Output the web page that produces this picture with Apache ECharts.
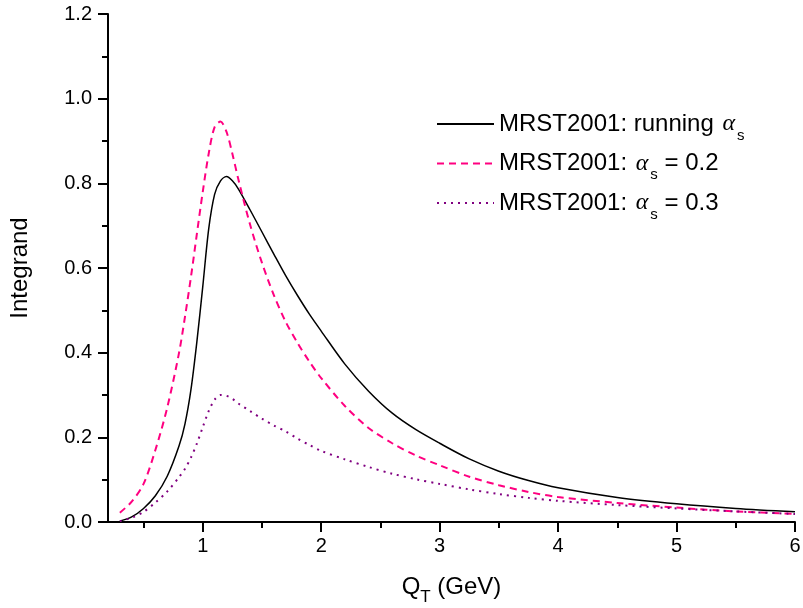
<!DOCTYPE html>
<html>
<head>
<meta charset="utf-8">
<script src="https://cdn.jsdelivr.net/npm/echarts@6/dist/echarts.min.js"></script>
<style>html,body{margin:0;padding:0;background:#fff}#c{width:803px;height:608px}</style>
</head>
<body>
<div id="c"></div>
<script>
// Q_T values (GeV)
var qt = [0.3, 0.4, 0.5, 0.6, 0.7, 0.8, 0.85, 0.9, 0.95, 1.0, 1.05, 1.1, 1.15, 1.2, 1.25, 1.3, 1.4, 1.5, 1.6, 1.7, 1.8, 1.9, 2.0, 2.2, 2.4, 2.6, 2.8, 3.0, 3.25, 3.5, 3.75, 4.0, 4.5, 5.0, 5.5, 6.0];
// MRST2001: running alpha_s
var running = [0.002, 0.012, 0.032, 0.062, 0.108, 0.180, 0.232, 0.312, 0.425, 0.556, 0.692, 0.774, 0.806, 0.816, 0.806, 0.787, 0.737, 0.685, 0.633, 0.582, 0.535, 0.491, 0.451, 0.373, 0.309, 0.257, 0.218, 0.186, 0.149, 0.120, 0.098, 0.081, 0.058, 0.043, 0.032, 0.024];
// MRST2001: alpha_s = 0.2
var fixed02 = [0.022, 0.048, 0.090, 0.170, 0.270, 0.400, 0.485, 0.578, 0.680, 0.780, 0.870, 0.933, 0.946, 0.922, 0.870, 0.810, 0.702, 0.612, 0.536, 0.473, 0.423, 0.379, 0.340, 0.274, 0.222, 0.186, 0.157, 0.134, 0.107, 0.087, 0.071, 0.059, 0.045, 0.034, 0.025, 0.019];
// MRST2001: alpha_s = 0.3
var fixed03 = [0.002, 0.010, 0.024, 0.046, 0.072, 0.106, 0.126, 0.152, 0.185, 0.224, 0.262, 0.289, 0.300, 0.298, 0.291, 0.280, 0.262, 0.244, 0.228, 0.214, 0.197, 0.182, 0.168, 0.148, 0.130, 0.114, 0.101, 0.090, 0.077, 0.066, 0.057, 0.050, 0.040, 0.032, 0.025, 0.019];

var majorX = [1, 2, 3, 4, 5, 6];
var minorX = [0.5, 1.5, 2.5, 3.5, 4.5, 5.5];
var seriesNames = ['MRST2001: running', 'MRST2001: a02', 'MRST2001: a03'];
var legendLabels = {
  'MRST2001: running': 'MRST2001: running {a|α}{s|s}',
  'MRST2001: a02': 'MRST2001: {a|α}{s|s} = 0.2',
  'MRST2001: a03': 'MRST2001: {a|α}{s|s} = 0.3'
};

function pairs(xs, ys) { return xs.map(function (x, i) { return [x, ys[i]]; }); }

var FONT = '"Liberation Sans", Arial, sans-serif';
var chart = echarts.init(document.getElementById('c'), null, {renderer: 'canvas'});
chart.setOption({
  animation: false,
  backgroundColor: '#ffffff',
  grid: {left: 108, right: 8, top: 14, bottom: 86, containLabel: false, outerBoundsMode: 'none'},
  legend: {
    orient: 'vertical',
    left: 431,
    top: 100,
    itemWidth: 57,
    itemHeight: 14,
    itemGap: 1.5,
    data: seriesNames,
    itemStyle: {opacity: 0},
    formatter: function (n) { return legendLabels[n]; },
    textStyle: {
      fontFamily: FONT, fontSize: 24, color: '#000',
      rich: {
        a: {fontFamily: '"Liberation Serif", "DejaVu Serif", serif', fontStyle: 'italic', fontSize: 24, color: '#000', padding: [0, 0, 0, 2]},
        s: {fontFamily: FONT, fontSize: 15, lineHeight: 15, padding: [23, 0, 0, 2], color: '#000'}
      }
    }
  },
  xAxis: [{
    type: 'value', min: 0.2, max: 6,
    name: 'Q{t|T} (GeV)',
    nameLocation: 'middle',
    nameGap: 53,
    nameTextStyle: {
      fontFamily: FONT, fontSize: 24, color: '#000',
      rich: {t: {fontFamily: FONT, fontSize: 17, lineHeight: 17, padding: [20, 0, 0, 0], color: '#000'}}
    },
    axisLine: {show: true, onZero: false, lineStyle: {color: '#000', width: 2}},
    axisTick: {show: true, length: 10, customValues: majorX, lineStyle: {color: '#000', width: 2}},
    axisLabel: {show: true, customValues: majorX, margin: 14, fontFamily: FONT, fontSize: 20, color: '#000'},
    splitLine: {show: false}
  }, {
    type: 'value', min: 0.2, max: 6, position: 'bottom', gridIndex: 0,
    axisLine: {show: false},
    axisTick: {show: true, length: 6, customValues: minorX, lineStyle: {color: '#000', width: 2}},
    axisLabel: {show: false},
    splitLine: {show: false}
  }],
  yAxis: {
    type: 'value', min: 0, max: 1.2, interval: 0.2,
    name: 'Integrand',
    nameLocation: 'middle',
    nameGap: 76,
    nameTextStyle: {fontFamily: FONT, fontSize: 24, color: '#000'},
    axisLine: {show: true, onZero: false, lineStyle: {color: '#000', width: 2}},
    axisTick: {show: true, length: 10, lineStyle: {color: '#000', width: 2}},
    minorTick: {show: true, splitNumber: 2, length: 6, lineStyle: {color: '#000', width: 2}},
    axisLabel: {margin: 16, fontFamily: FONT, fontSize: 20, color: '#000',
      formatter: function (v) { return v.toFixed(1); }},
    splitLine: {show: false}
  },
  series: [{
    name: seriesNames[0], type: 'line', xAxisIndex: 0, data: pairs(qt, running),
    symbol: 'none', smooth: 0.3, lineStyle: {color: '#000000', width: 1.5, type: 'solid'},
    itemStyle: {color: '#000000'}
  }, {
    name: seriesNames[1], type: 'line', xAxisIndex: 0, data: pairs(qt, fixed02),
    symbol: 'none', smooth: 0.3, lineStyle: {color: '#ff0080', width: 2, type: [7, 5]},
    itemStyle: {color: '#ff0080'}
  }, {
    name: seriesNames[2], type: 'line', xAxisIndex: 0, data: pairs(qt, fixed03),
    symbol: 'none', smooth: 0.3, lineStyle: {color: '#800080', width: 2, type: [2, 5]},
    itemStyle: {color: '#800080'}
  }]
});
</script>
</body>
</html>
